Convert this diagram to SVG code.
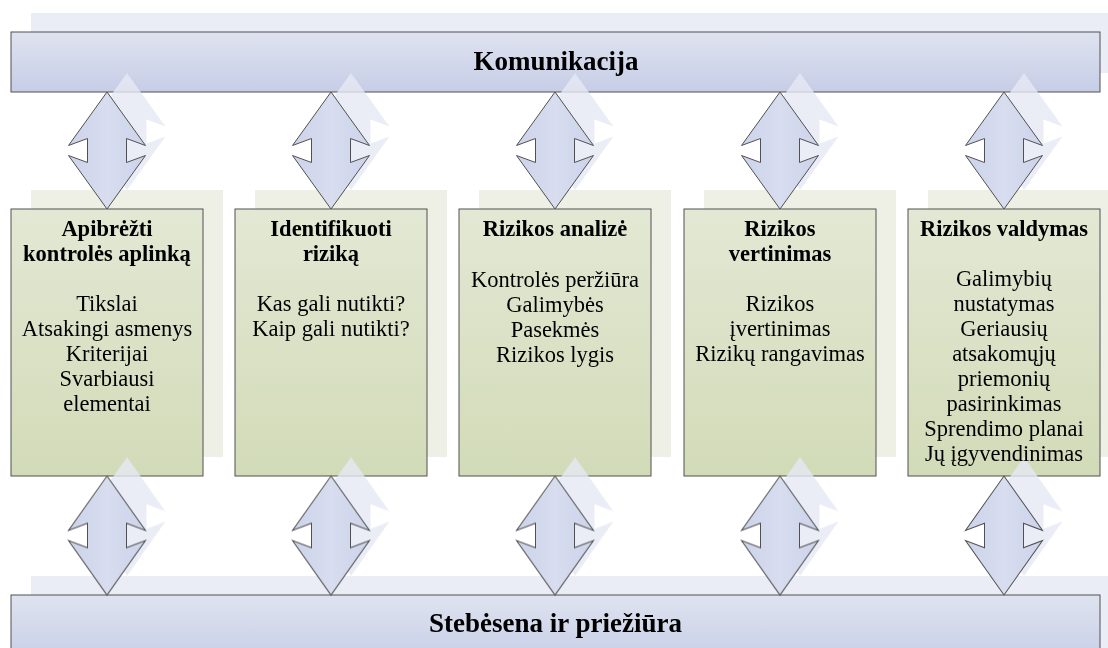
<svg xmlns="http://www.w3.org/2000/svg" width="1108" height="648" viewBox="0 0 1108 648">
  <defs>
    <linearGradient id="barFill" x1="0" y1="0" x2="0" y2="1">
      <stop offset="0" stop-color="#dfe3f0"/>
      <stop offset="1" stop-color="#c6cde6"/>
    </linearGradient>
    <linearGradient id="boxFill" x1="0" y1="0" x2="0" y2="1">
      <stop offset="0" stop-color="#e3e8d4"/>
      <stop offset="1" stop-color="#d2dbb8"/>
    </linearGradient>
    <linearGradient id="arrowFill" x1="0" y1="0" x2="1" y2="0">
      <stop offset="0" stop-color="#ccd3ea"/>
      <stop offset="0.5" stop-color="#d8ddef"/>
      <stop offset="1" stop-color="#ccd3ea"/>
    </linearGradient>
    <!-- double-headed block arrow, centred on the origin -->
    <path id="dblArrow" d="M0,-58.5 L38.5,-5 L19.5,-12 L19.5,12 L38.5,5 L0,58.5 L-38.5,5 L-19.5,12 L-19.5,-12 L-38.5,-5 Z"/>
  </defs>

  <rect width="1108" height="648" fill="#ffffff"/>

  <!-- soft offset shadows behind bars and boxes -->
  <g id="shadows">
    <g fill="#eaedf6">
      <rect x="31" y="13" width="1090" height="60"/>
      <rect x="31" y="576" width="1090" height="80"/>
    </g>
    <g fill="#eef0e6">
      <rect x="31" y="190" width="192" height="267"/>
      <rect x="255" y="190" width="192" height="267"/>
      <rect x="479" y="190" width="192" height="267"/>
      <rect x="704" y="190" width="192" height="267"/>
      <rect x="928" y="190" width="192" height="267"/>
    </g>
  </g>

  <g fill="url(#barFill)" stroke="#505050" stroke-width="1">
    <g id="komunikacija">
      <rect x="11" y="32" width="1089" height="60"/>
    </g>
    <g id="stebesena">
      <rect x="11" y="595" width="1089" height="70"/>
    </g>
  </g>

  <g fill="url(#boxFill)" stroke="#505050" stroke-width="1">
    <g id="box-aplinka">
      <rect x="11" y="209" width="192" height="267"/>
    </g>
    <g id="box-identifikuoti">
      <rect x="235" y="209" width="192" height="267"/>
    </g>
    <g id="box-analize">
      <rect x="459" y="209" width="192" height="267"/>
    </g>
    <g id="box-vertinimas">
      <rect x="684" y="209" width="192" height="267"/>
    </g>
    <g id="box-valdymas">
      <rect x="908" y="209" width="192" height="267"/>
    </g>
  </g>

  <!-- connectors: two-way arrows to the communication and monitoring bars -->
  <g id="connectors">
    <g id="connector-shadows" fill="#e6e9f4" opacity="0.8">
      <use href="#dblArrow" transform="translate(127,131.5)"/>
      <use href="#dblArrow" transform="translate(351,131.5)"/>
      <use href="#dblArrow" transform="translate(575,131.5)"/>
      <use href="#dblArrow" transform="translate(800,131.5)"/>
      <use href="#dblArrow" transform="translate(1024,131.5)"/>
      <use href="#dblArrow" transform="translate(127,516.5) scale(1,1.017)"/>
      <use href="#dblArrow" transform="translate(351,516.5) scale(1,1.017)"/>
      <use href="#dblArrow" transform="translate(575,516.5) scale(1,1.017)"/>
      <use href="#dblArrow" transform="translate(800,516.5) scale(1,1.017)"/>
      <use href="#dblArrow" transform="translate(1024,516.5) scale(1,1.017)"/>
    </g>
    <g fill="url(#arrowFill)" stroke="#505050" stroke-width="1">
      <use href="#dblArrow" transform="translate(107,150.5)"/>
      <use href="#dblArrow" transform="translate(331,150.5)"/>
      <use href="#dblArrow" transform="translate(555,150.5)"/>
      <use href="#dblArrow" transform="translate(780,150.5)"/>
      <use href="#dblArrow" transform="translate(1004,150.5)"/>
      <use href="#dblArrow" transform="translate(107,535.5) scale(1,1.017)"/>
      <use href="#dblArrow" transform="translate(331,535.5) scale(1,1.017)"/>
      <use href="#dblArrow" transform="translate(555,535.5) scale(1,1.017)"/>
      <use href="#dblArrow" transform="translate(780,535.5) scale(1,1.017)"/>
      <use href="#dblArrow" transform="translate(1004,535.5) scale(1,1.017)"/>
    </g>
  </g>

  <g id="labels" font-family="Liberation Serif" fill="#000000" text-anchor="middle">
    <g font-weight="bold" font-size="27">
      <text x="556" y="70">Komunikacija</text>
      <text x="555.5" y="632">Stebėsena ir priežiūra</text>
    </g>

    <g font-weight="bold" font-size="22.5">
      <text x="107" y="236">Apibrėžti</text>
      <text x="107" y="261">kontrolės aplinką</text>
      <text x="331" y="236">Identifikuoti</text>
      <text x="331" y="261">riziką</text>
      <text x="555" y="236">Rizikos analizė</text>
      <text x="780" y="236">Rizikos</text>
      <text x="780" y="261">vertinimas</text>
      <text x="1004" y="236">Rizikos valdymas</text>
    </g>

    <g font-size="22.5">
      <text x="107" y="311">Tikslai</text>
      <text x="107" y="336">Atsakingi asmenys</text>
      <text x="107" y="361">Kriterijai</text>
      <text x="107" y="386">Svarbiausi</text>
      <text x="107" y="411">elementai</text>

      <text x="331" y="311">Kas gali nutikti?</text>
      <text x="331" y="336">Kaip gali nutikti?</text>

      <text x="555" y="287">Kontrolės peržiūra</text>
      <text x="555" y="312">Galimybės</text>
      <text x="555" y="337">Pasekmės</text>
      <text x="555" y="362">Rizikos lygis</text>

      <text x="780" y="311">Rizikos</text>
      <text x="780" y="336">įvertinimas</text>
      <text x="780" y="361">Rizikų rangavimas</text>

      <text x="1004" y="286">Galimybių</text>
      <text x="1004" y="311">nustatymas</text>
      <text x="1004" y="336">Geriausių</text>
      <text x="1004" y="361">atsakomųjų</text>
      <text x="1004" y="386">priemonių</text>
      <text x="1004" y="411">pasirinkimas</text>
      <text x="1004" y="436">Sprendimo planai</text>
      <text x="1004" y="461">Jų įgyvendinimas</text>
    </g>
  </g>
</svg>
